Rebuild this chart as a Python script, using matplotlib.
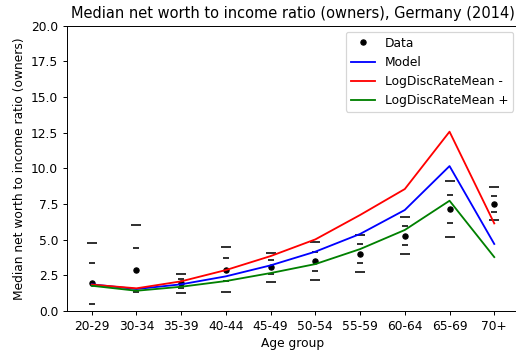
import matplotlib
matplotlib.use("Agg")
import matplotlib.pyplot as plt
import numpy as np

age_groups = ["20-29", "30-34", "35-39", "40-44", "45-49",
              "50-54", "55-59", "60-64", "65-69", "70+"]

# Observed medians and bootstrap interval bounds
data_median = [1.95, 2.87, 1.95, 2.90, 3.06, 3.50, 4.02, 5.28, 7.15, 7.52]
outer_upper = [4.79, 6.00, 2.61, 4.49, 4.09, 4.86, 5.33, 6.61, 9.11, 8.69]
outer_lower = [-0.89, -0.26, 1.26, 1.33, 2.06, 2.15, 2.71, 3.99, 5.21, 6.38]
inner_upper = [3.38, 4.41, 2.26, 3.69, 3.57, 4.16, 4.67, 5.93, 8.13, 8.08]
inner_lower = [0.52, 1.31, 1.63, 2.13, 2.57, 2.83, 3.36, 4.63, 6.17, 6.94]

# Simulated model profiles
model = [1.87, 1.54, 1.87, 2.43, 3.20, 4.16, 5.40, 7.08, 10.16, 4.70]
disc_minus = [1.85, 1.59, 2.08, 2.87, 3.85, 5.02, 6.73, 8.55, 12.57, 6.14]
disc_plus = [1.77, 1.42, 1.70, 2.10, 2.66, 3.29, 4.34, 5.68, 7.73, 3.78]

DPI = 88
W, H = 516, 353
fig = plt.figure(figsize=(W / DPI, H / DPI), dpi=DPI)
left, right, top, bottom = 66.7, 519.3, 25.7, 311.0
ax = fig.add_axes([left / W, (H - bottom) / H, (right - left) / W, (bottom - top) / H])

x = np.arange(len(age_groups))

ax.plot(x, data_median, "k.", markersize=8.5, label="Data")
ax.plot(x, outer_upper, "_", color="k", markersize=8.3, markeredgewidth=1.3)
ax.plot(x, outer_lower, "_", color="k", markersize=8.3, markeredgewidth=1.3)
ax.plot(x, inner_upper, "_", color="k", markersize=4.2, markeredgewidth=1.3)
ax.plot(x, inner_lower, "_", color="k", markersize=4.2, markeredgewidth=1.3)

ax.plot(x, model, color="b", label="Model")
ax.plot(x, disc_minus, color="r", label="LogDiscRateMean -")
ax.plot(x, disc_plus, color="g", label="LogDiscRateMean +")

ax.set_xticks(x)
ax.set_xticklabels(age_groups)
ax.set_xlim(-0.56, 9.56)
ax.set_ylim(0, 20)
ax.set_xlabel("Age group")
ax.set_ylabel("Median net worth to income ratio (owners)")
ax.set_title("Median net worth to income ratio (owners), Germany (2014)")
ax.legend(loc="upper right")

fig.savefig("out.png", dpi=DPI)
